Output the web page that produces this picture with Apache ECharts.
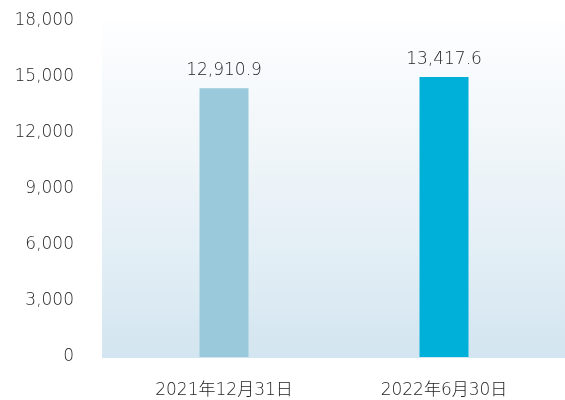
<!DOCTYPE html>
<html style="height: 100%">
   <head>
       <meta charset="utf-8">
   </head>
   <body style="height: 100%; margin: 0; background: #fff">
       <div id="container" style="width: 565px; height: 400px"></div>
       <script type="text/javascript" src="https://cdn.jsdelivr.net/npm/echarts@6/dist/echarts.min.js"></script>
       <script type="text/javascript">
// values (bar heights) and the printed labels
var categories = ['2021年12月31日', '2022年6月30日'];
var barHeights = [14400, 15000];
var barLabels = ['12,910.9', '13,417.6'];
var barColors = ['#99c9da', '#00b0d8'];
var yTicks = { min: 0, max: 18000, interval: 3000 };

var dom = document.getElementById("container");
var myChart = echarts.init(dom);

var txtFont = "'DejaVu Sans', 'Noto Sans CJK SC', sans-serif";
var txtWeight = 200;
var txtColor = '#1e1e1e';

var option = {
    backgroundColor: '#fff',
    animation: false,
    // sky picture behind the plot, approximated by a gradient
    graphic: [{
        type: 'rect',
        z: -10,
        shape: { x: 102, y: 22, width: 463, height: 336 },
        style: {
            fill: new echarts.graphic.LinearGradient(0, 0, 0, 1, [
                { offset: 0, color: '#fdfeff' },
                { offset: 0.35, color: '#f1f6f9' },
                { offset: 0.7, color: '#e2eef5' },
                { offset: 1, color: '#d3e5f0' }
            ])
        }
    }],
    grid: {
        left: 114,
        right: 11,
        top: 21,
        bottom: 43
    },
    xAxis: {
        type: 'category',
        data: categories,
        axisLine: { show: false },
        axisTick: { show: false },
        axisLabel: {
            margin: 25,
            fontSize: 17,
            fontWeight: txtWeight,
            color: txtColor,
            fontFamily: txtFont
        }
    },
    yAxis: {
        type: 'value',
        min: yTicks.min,
        max: yTicks.max,
        interval: yTicks.interval,
        splitLine: { show: false },
        axisLine: { show: false },
        axisTick: { show: false },
        axisLabel: {
            margin: 40,
            fontSize: 17,
            fontWeight: txtWeight,
            color: txtColor,
            fontFamily: txtFont,
            formatter: function (v) {
                return v.toLocaleString('en-US');
            }
        }
    },
    series: [{
        type: 'bar',
        barWidth: 49,
        data: barHeights.map(function (v, i) {
            return { value: v, itemStyle: { color: barColors[i] } };
        }),
        label: {
            show: true,
            position: 'top',
            distance: 9,
            fontSize: 17,
            fontWeight: txtWeight,
            color: txtColor,
            fontFamily: txtFont,
            formatter: function (p) {
                return barLabels[p.dataIndex];
            }
        }
    }]
};

myChart.setOption(option);
       </script>
   </body>
</html>
